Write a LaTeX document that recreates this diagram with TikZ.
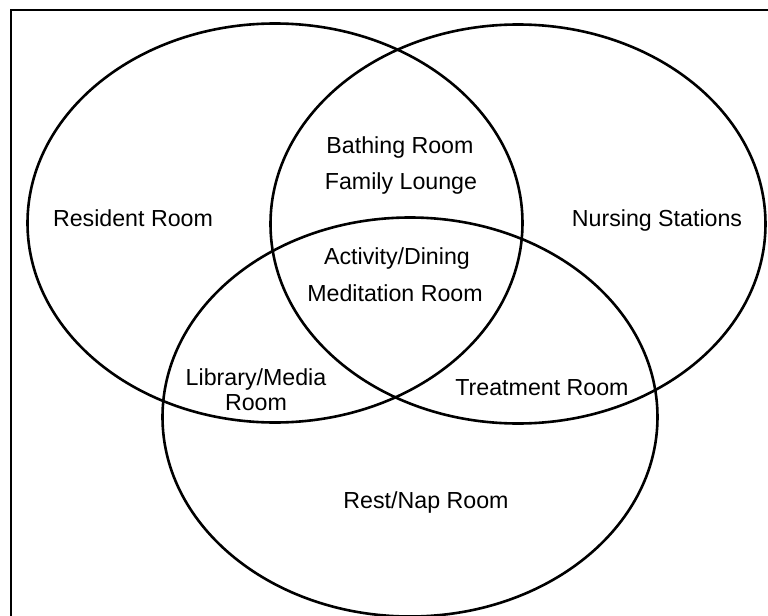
\documentclass[tikz,border=0pt]{standalone}
\usepackage{fontspec}
\setmainfont{Liberation Sans}
\usepackage{tikz}
\usetikzlibrary{shapes,positioning}

\begin{document}
\begin{tikzpicture}[
    x=0.5pt, y=-0.5pt,
    zone/.style={ellipse, draw, line width=1.3pt, minimum width=247.5pt, minimum height=199.5pt, inner sep=0pt},
    roomtxt/.style={anchor=base, inner sep=0pt, font=\fontsize{11.6}{13}\selectfont}
]
    \useasboundingbox (0,0) rectangle (768,616);

    % Frame
    \draw[line width=1pt] (768,10) -- (11,10) -- (11,616);

    % Three areas
    \node[zone] (resident) at (275,223) {};
    \node[zone] (nursing) at (518,224) {};
    \node[zone] (rest) at (410,417) {};

    % Single areas
    \node[roomtxt] (res) at (133,226) {Resident Room};
    \node[roomtxt] (nur) at (657,226) {Nursing Stations};
    \node[roomtxt] (nap) at (426,508) {Rest/Nap Room};

    % Overlaps
    \node[roomtxt] (bath) at (400,153) {Bathing Room};
    \node[roomtxt] (lounge) at (401,189) {Family Lounge};
    \node[roomtxt] (act) at (397,264) {Activity/Dining};
    \node[roomtxt] (med) at (395,301) {Meditation Room};
    \node[roomtxt] (lib) at (256,385) {Library/Media};
    \node[roomtxt] (libroom) at (256,410) {Room};
    \node[roomtxt] (treat) at (542,395) {Treatment Room};
\end{tikzpicture}
\end{document}
